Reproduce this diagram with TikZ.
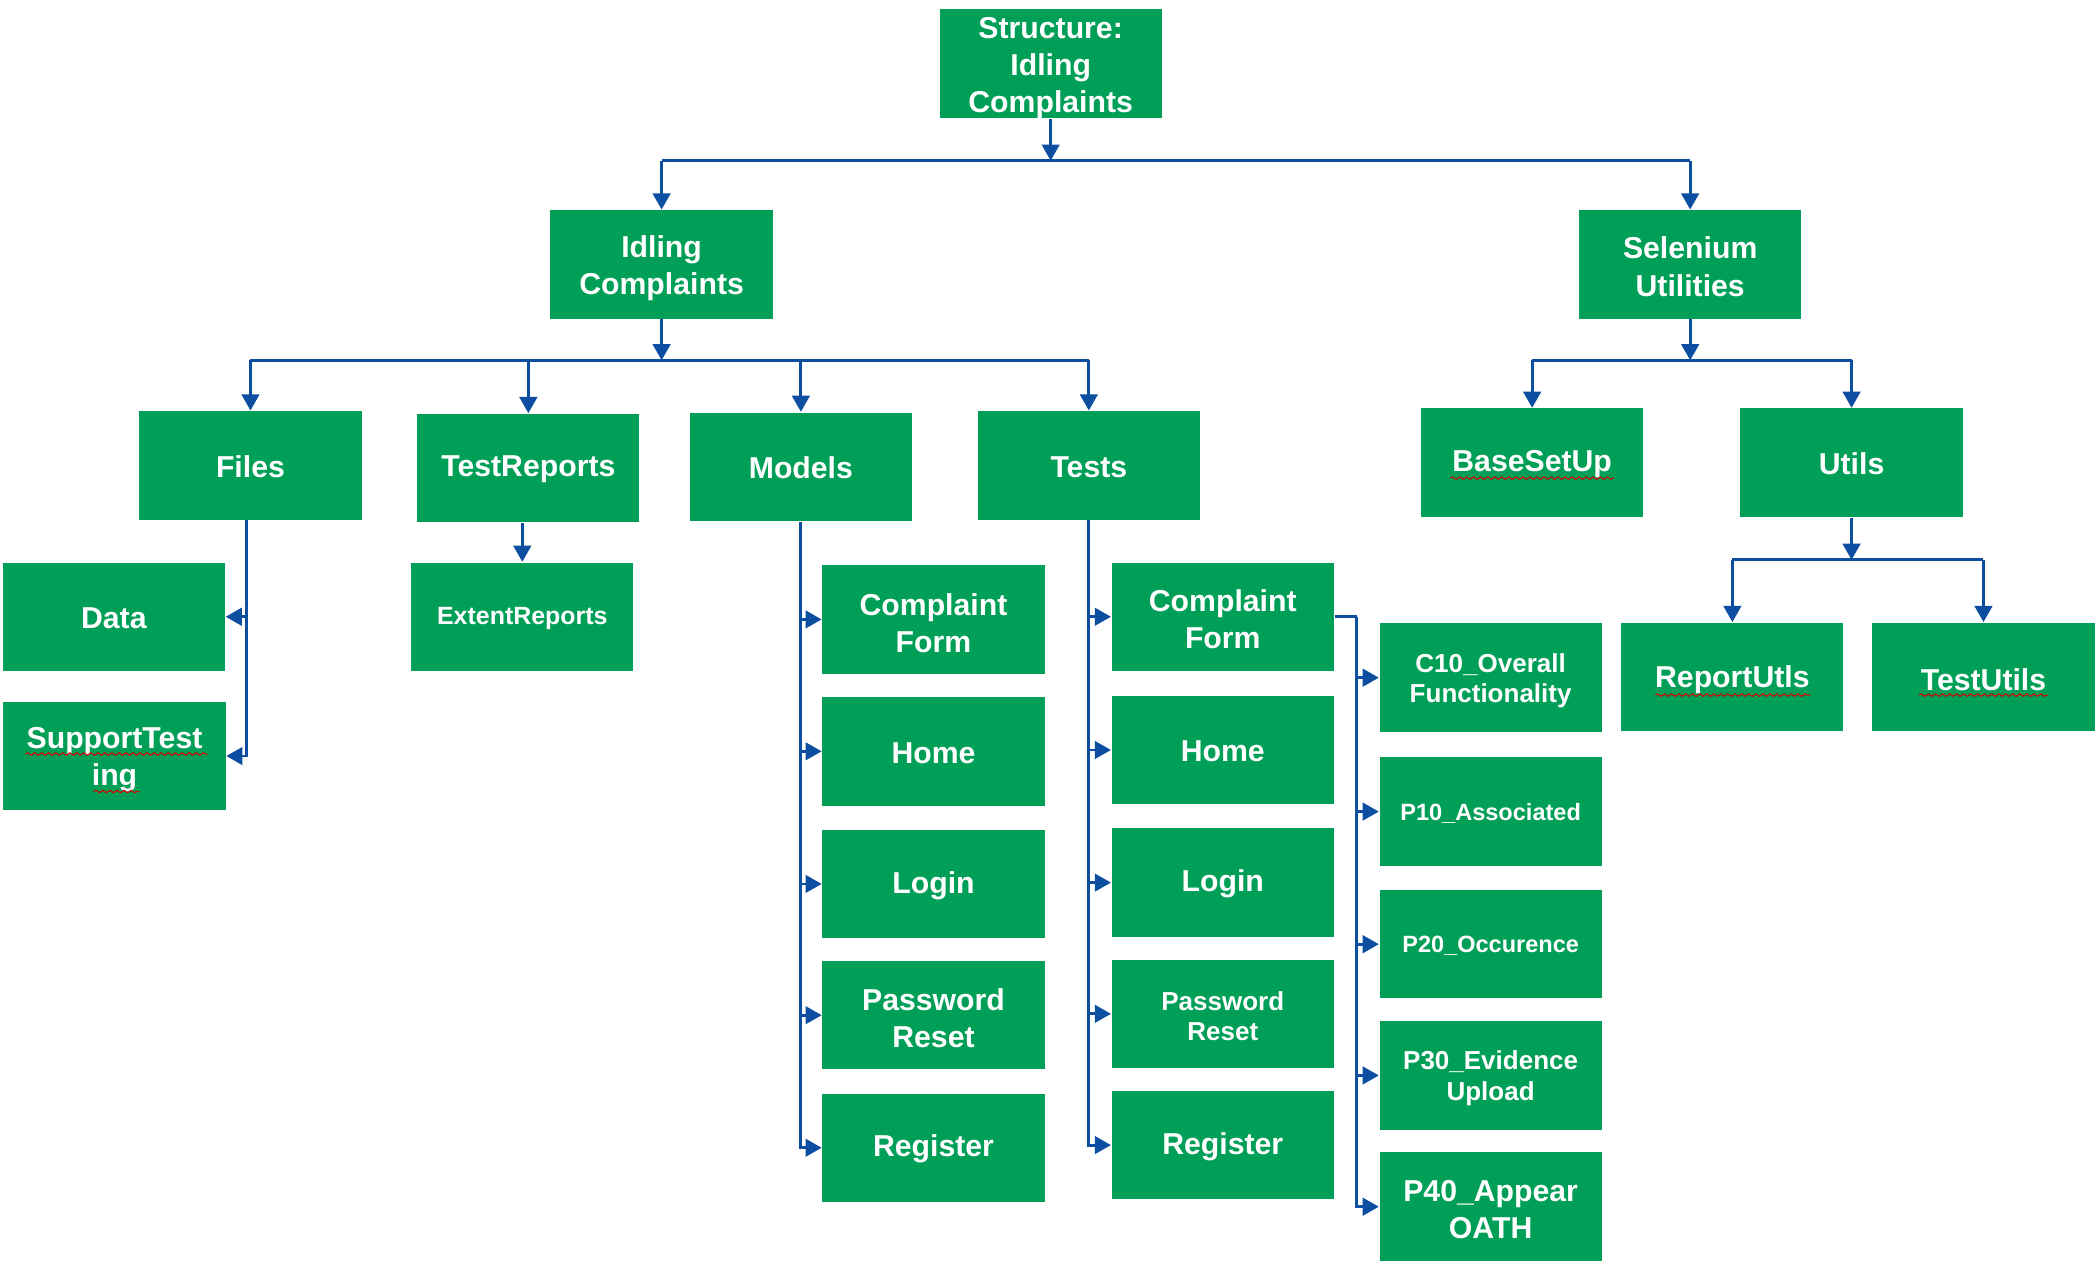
\documentclass[tikz,border=0pt]{standalone}
\usepackage{fontspec}
\setmainfont{Liberation Sans}
\usetikzlibrary{arrows.meta,decorations.pathmorphing}
\definecolor{boxgreen}{RGB}{0,159,87}
\definecolor{linkblue}{RGB}{12,78,160}

% \gbox[text style]{name}{position}{text shift}{text}
\newcommand\gbox[5][]{%
  \node[box] (#2) at (#3) {};
  \node[boxtext,#1] at ([yshift=-#4]#2.center) {#5};}

\begin{document}
\begin{tikzpicture}[x=0.013393cm,y=-0.013393cm,
  box/.style={fill=boxgreen, minimum width=2.223cm, minimum height=1.085cm, inner sep=0pt},
  boxtext/.style={text=white, inner sep=0pt, align=center,
    font=\bfseries\fontsize{8.6}{10.6}\selectfont},
  mid/.style={font=\bfseries\fontsize{7.4}{8.6}\selectfont},
  small/.style={font=\bfseries\fontsize{6.7}{8.6}\selectfont},
  link/.style={draw=linkblue, line width=0.8pt},
  arr/.style={link, -{Triangle[width=5pt,length=4.6pt]}},
  squig/.style={draw=red!85!black, line width=0.3pt, decorate,
    decoration={snake, amplitude=0.35pt, segment length=2pt}}]

\useasboundingbox (0,0) rectangle (1568,947);

% top levels
\gbox{root}{784.5,47.5}{1.2pt}{Structure:\\Idling\\Complaints}
\gbox{idl}{494,197.5}{1.1pt}{Idling\\Complaints}
\gbox{sel}{1262,197.5}{0.6pt}{Selenium\\Utilities}

% second level
\gbox{files}{187,347.5}{0.4pt}{Files}
\gbox{trep}{394.5,349.5}{0.4pt}{TestReports}
\gbox{models}{598,348.5}{0.4pt}{Models}
\gbox{tests}{813,347.5}{0.4pt}{Tests}
\gbox{base}{1144,345.5}{0.4pt}{BaseSetUp}
\gbox{utils}{1382.5,345.5}{0.4pt}{Utils}

% under Files and TestReports
\gbox{data}{85,460.5}{0.4pt}{Data}
\gbox{supp}{85.5,564.5}{1.1pt}{SupportTest\\ing}
\gbox[font=\bfseries\fontsize{7.1}{8.6}\selectfont]{extr}{390,460.5}{0.4pt}{ExtentReports}

% under Models
\gbox{m1}{697,462.5}{1.1pt}{Complaint\\Form}
\gbox{m2}{697,561}{0.4pt}{Home}
\gbox{m3}{697,660}{0.4pt}{Login}
\gbox{m4}{697,758}{0.8pt}{Password\\Reset}
\gbox{m5}{697,857}{0.4pt}{Register}

% under Tests
\gbox{t1}{913,460.5}{0.8pt}{Complaint\\Form}
\gbox{t2}{913,560}{0.4pt}{Home}
\gbox{t3}{913,659}{0.4pt}{Login}
\gbox[mid]{t4}{913,757}{0.6pt}{Password\\Reset}
\gbox{t5}{913,855}{0.4pt}{Register}

% test classes of the complaint form
\gbox[mid]{c1}{1113,506}{0.8pt}{C10\_Overall\\Functionality}
\gbox[small]{c2}{1113,606}{0.4pt}{P10\_Associated}
\gbox[small]{c3}{1113,705}{0.4pt}{P20\_Occurence}
\gbox[mid]{c4}{1113,803}{0.8pt}{P30\_Evidence\\Upload}
\gbox{c5}{1113,901}{0.8pt}{P40\_Appear\\OATH}

% under Utils
\gbox{ru}{1293.5,505.5}{0.8pt}{ReportUtls}
\gbox{tu}{1481,505.5}{0.8pt}{TestUtils}

% bus lines
\coordinate (b0) at (0,120);
\coordinate (b1) at (0,269);
\coordinate (b3) at (0,418);
\coordinate (fx) at (184,0);
\coordinate (cx) at (1013,0);

\draw[arr] (root.south) -- (root.south |- b0);
\draw[link] (idl.north |- b0) -- (sel.north |- b0);
\draw[arr] (idl.north |- b0) -- (idl.north);
\draw[arr] (sel.north |- b0) -- (sel.north);

\draw[arr] (idl.south) -- (idl.south |- b1);
\draw[link] (files.north |- b1) -- (tests.north |- b1);
\foreach \n in {files,trep,models,tests}
  \draw[arr] (\n.north |- b1) -- (\n.north);

\draw[arr] (sel.south) -- (sel.south |- b1);
\draw[link] (base.north |- b1) -- (utils.north |- b1);
\foreach \n in {base,utils}
  \draw[arr] (\n.north |- b1) -- (\n.north);

% Files branch
\draw[arr] (files.south -| fx) |- (supp.east);
\draw[arr] (fx |- data.east) -- (data.east);

% TestReports branch
\draw[arr] (trep.south -| extr.north) -- (extr.north);

% Models branch
\draw[arr] (models.south) |- (m5.west);
\foreach \n in {m1,m2,m3,m4}
  \draw[arr] (models.south |- \n.west) -- (\n.west);

% Tests branch
\draw[arr] (tests.south) |- (t5.west);
\foreach \n in {t1,t2,t3,t4}
  \draw[arr] (tests.south |- \n.west) -- (\n.west);

% Complaint form tests
\draw[link] (t1.east) -- (t1.east -| cx);
\draw[arr] (t1.east -| cx) |- (c5.west);
\foreach \n in {c1,c2,c3,c4}
  \draw[arr] (cx |- \n.west) -- (\n.west);

% Utils branch
\draw[arr] (utils.south) -- (utils.south |- b3);
\draw[link] (ru.north |- b3) -- (tu.north |- b3);
\foreach \n in {ru,tu}
  \draw[arr] (\n.north |- b3) -- (\n.north);

% spelling marks under words
\draw[squig] (19,563) -- (155,563);
\draw[squig] (70,591) -- (104,591);
\draw[squig] (1083,357) -- (1205,357);
\draw[squig] (1236,519) -- (1352,519);
\draw[squig] (1433,519) -- (1529,519);

\end{tikzpicture}
\end{document}
